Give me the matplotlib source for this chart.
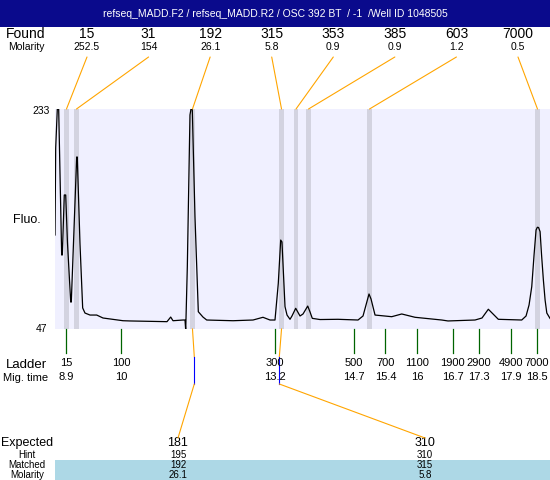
import numpy as np
import matplotlib
matplotlib.use("Agg")
from matplotlib import pyplot as plt
from matplotlib.patches import Rectangle, ConnectionPatch

plt.rcParams['font.family'] = ['Liberation Sans', 'DejaVu Sans']

title = "refseq_MADD.F2 / refseq_MADD.R2 / OSC 392 BT  / -1  /Well ID 1048505"

# electropherogram trace (migration time in min, fluorescence)
trace_time = [8.676, 8.69, 8.723, 8.751, 8.812, 8.825, 8.865, 8.894, 8.93, 8.996, 9.008,
              9.118, 9.130, 9.185, 9.240, 9.287, 9.389, 9.526, 9.654, 10.062, 10.205,
              10.959, 11.034, 11.081, 11.285, 11.326, 11.340, 11.373, 11.427, 11.448,
              11.474, 11.529, 11.597, 11.692, 11.768, 11.937, 12.304, 12.712, 12.915,
              13.058, 13.160, 13.227, 13.276, 13.302, 13.364, 13.405, 13.466, 13.506,
              13.582, 13.670, 13.731, 13.827, 13.874, 13.920, 14.077, 14.444, 14.852,
              14.954, 15.015, 15.076, 15.117, 15.199, 15.539, 15.743, 16.014, 16.558,
              16.686, 17.237, 17.379, 17.508, 17.604, 17.712, 18.189, 18.277, 18.338,
              18.393, 18.440, 18.481, 18.507, 18.532, 18.563, 18.593, 18.630, 18.665,
              18.700, 18.765]
trace_fluo = [126.5, 200.0, 233.0, 233.0, 109.6, 109.6, 160.3, 160.3, 120.0, 69.8, 69.8,
              192.4, 192.4, 119.4, 64.8, 60.5, 58.8, 58.8, 56.3, 54.0, 53.8,
              53.2, 57.1, 54.0, 54.6, 54.6, 46.0, 99.7, 228.0, 233.0,
              233.0, 142.0, 61.6, 57.1, 54.6, 54.4, 54.0, 54.6, 56.9,
              54.6, 54.6, 85.6, 122.2, 120.6, 65.9, 58.8, 55.2, 58.0,
              64.5, 58.0, 59.7, 66.4, 61.4, 56.0, 55.0, 55.2, 54.6,
              58.0, 67.3, 76.6, 72.4, 58.8, 57.4, 59.7, 56.9, 54.6,
              53.8, 54.6, 56.3, 63.7, 59.7, 55.2, 54.6, 58.0, 67.3,
              82.8, 109.6, 130.7, 133.0, 132.8, 129.3, 109.6, 88.4, 71.5,
              60.5, 56.0]

found_size = ['15', '31', '192', '315', '353', '385', '603', '7000']
found_molarity = ['252.5', '154', '26.1', '5.8', '0.9', '0.9', '1.2', '0.5']
found_time = [8.910, 9.114, 11.478, 13.293, 13.588, 13.843, 15.086, 18.510]

ladder_size = ['15', '100', '300', '500', '700', '1100', '1900', '2900', '4900', '7000']
ladder_mig = ['8.9', '10', '13.2', '14.7', '15.4', '16', '16.7', '17.3', '17.9', '18.5']
ladder_time = [8.90, 10.03, 13.16, 14.76, 15.41, 16.06, 16.78, 17.31, 17.96, 18.50]

expected_size = ['181', '310']
hint_size = ['195', '310']
matched_size = ['192', '315']
matched_molarity = ['26.1', '5.8']
matched_time = [11.478, 13.293]
hint_time = [11.515, 13.248]

y_min, y_max = 47, 233
x_min, x_max = 8.676, 18.765

W, H = 550, 480
fig = plt.figure(figsize=(W / 100, H / 100), dpi=100)

# overlay in pixel coords for the text rows
ov = fig.add_axes([0, 0, 1, 1], zorder=0)
ov.set_xlim(0, W)
ov.set_ylim(H, 0)
ov.axis('off')

# plot area
ax = fig.add_axes([55 / W, (H - 329) / H, 495 / W, 220 / H], zorder=1)
ax.set_facecolor('#F0F0FF')
ax.set_xlim(x_min, x_max)
ax.set_ylim(y_min, y_max)
for s in ax.spines.values():
    s.set_visible(False)
ax.set_xticks([])
ax.set_yticks([])

for t in found_time:
    ax.axvspan(t - 0.05, t + 0.05, color='#D3D3E0', lw=0)
ax.plot(trace_time, trace_fluo, color='black', lw=0.9)

# title bar
ov.add_patch(Rectangle((0, 0), W, 27, color='#0A0A8C', lw=0))
ov.text(W / 2, 14, title, color='white', fontsize=7.5, ha='center', va='center')

# found rows
ov.text(26, 34, "Found", fontsize=10, ha='center', va='center')
ov.text(26, 47, "Molarity", fontsize=7.5, ha='center', va='center')
label_x = np.linspace(87, 518, len(found_size))
for lx, sz, mol, t in zip(label_x, found_size, found_molarity, found_time):
    ov.text(lx, 34, sz, fontsize=10, ha='center', va='center')
    ov.text(lx, 47, mol, fontsize=7.5, ha='center', va='center')
    con = ConnectionPatch(xyA=(lx, 57), coordsA=ov.transData,
                          xyB=(t, y_max), coordsB=ax.transData,
                          color='orange', lw=0.8, zorder=5)
    fig.add_artist(con)

# y limits
ov.text(41, 111, str(y_max), fontsize=7.5, ha='center', va='center')
ov.text(41, 329, str(y_min), fontsize=7.5, ha='center', va='center')
ov.text(27, 220, "Fluo.", fontsize=9, ha='center', va='center')

# ladder
xt = ax.get_xaxis_transform()
for t, sz, mg in zip(ladder_time, ladder_size, ladder_mig):
    ax.plot([t, t], [0, -0.109], transform=xt, color='#006400', lw=0.9, clip_on=False)
    ax.text(t, -0.153, sz, transform=xt, fontsize=8, ha='center', va='center')
    ax.text(t, -0.218, mg, transform=xt, fontsize=8, ha='center', va='center')
ov.text(26, 365, "Ladder", fontsize=9.5, ha='center', va='center')
ov.text(26, 378, "Mig. time", fontsize=8, ha='center', va='center')

# expected / matched
ov.add_patch(Rectangle((55, 460), W - 55, 20, color='#ADD8E6', lw=0))
ov.text(27, 443, "Expected", fontsize=9, ha='center', va='center')
ov.text(27, 455, "Hint", fontsize=7, ha='center', va='center')
ov.text(27, 465, "Matched", fontsize=7, ha='center', va='center')
ov.text(27, 474.5, "Molarity", fontsize=7, ha='center', va='center')
exp_x = [178, 425]
for ex, es, hs, ms, mm, mt, ht in zip(exp_x, expected_size, hint_size, matched_size,
                                      matched_molarity, matched_time, hint_time):
    ov.text(ex, 443, es, fontsize=9, ha='center', va='center')
    ov.text(ex, 455, hs, fontsize=7, ha='center', va='center')
    ov.text(ex, 465, ms, fontsize=7, ha='center', va='center')
    ov.text(ex, 474.5, mm, fontsize=7, ha='center', va='center')
    ax.plot([mt, ht], [0, -0.126], transform=xt, color='orange', lw=0.8, clip_on=False)
    ax.plot([ht, ht], [-0.126, -0.25], transform=xt, color='blue', lw=0.8, clip_on=False)
    con = ConnectionPatch(xyA=(ht, -0.25), coordsA=xt,
                          xyB=(ex, 438), coordsB=ov.transData,
                          color='orange', lw=0.8, zorder=5)
    fig.add_artist(con)

fig.savefig("out.png", dpi=100)
